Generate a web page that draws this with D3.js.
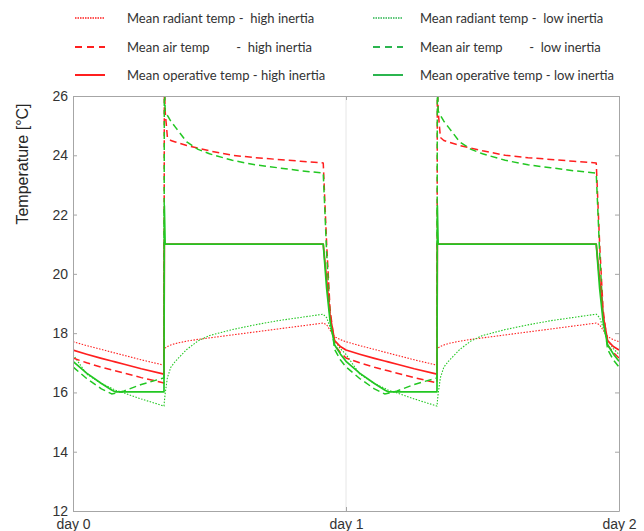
<!DOCTYPE html>
<html>
<head>
<meta charset="utf-8">
<script src="https://cdn.jsdelivr.net/npm/d3@7"></script>
<style>
  body { margin: 0; background: #fff; }
  svg { display: block; }
  .tick text { font-family: "Liberation Sans", Arial, sans-serif; font-size: 14px; fill: #333; }
</style>
</head>
<body>
<svg id="chart" width="644" height="531"></svg>
<script>
// hours within one day (the second day repeats the first)
const hours = [0, 1.2, 2.5, 3.4, 3.7, 4.5, 6, 8, 8.03, 8.1, 8.3, 8.6, 9, 10, 11, 12, 14, 16, 18, 20, 22, 22.3, 22.6, 23, 23.5, 24];

const radiantHigh   = [17.71, 17.58, 17.45, 17.36, 17.33, 17.25, 17.1, 16.92, 17.45, 17.5, 17.55, 17.6, 17.65, 17.73, 17.79, 17.84, 17.94, 18.04, 18.14, 18.24, 18.34, 18.28, 18.1, 17.88, 17.78, 17.71];
const radiantLow    = [17.28, 16.62, 16.3, 16.14, 16.08, 15.98, 15.78, 15.54, 15.68, 15.95, 16.5, 16.85, 17.05, 17.45, 17.74, 17.92, 18.12, 18.28, 18.42, 18.53, 18.64, 18.52, 18.2, 17.75, 17.48, 17.28];
const airHigh       = [17.16, 17.0, 16.85, 16.76, 16.73, 16.65, 16.5, 16.32, 26.6, 25.5, 24.6, 24.5, 24.45, 24.33, 24.24, 24.15, 24.0, 23.92, 23.86, 23.8, 23.74, 21.0, 18.8, 17.6, 17.35, 17.16];
const airLow        = [16.86, 16.47, 16.12, 15.95, 15.97, 16.05, 16.27, 16.49, 26.8, 25.5, 25.35, 25.15, 24.95, 24.45, 24.2, 24.05, 23.83, 23.68, 23.58, 23.48, 23.4, 20.7, 18.6, 17.45, 17.1, 16.86];
const operativeHigh = [17.43, 17.29, 17.15, 17.06, 17.03, 16.95, 16.8, 16.62, 21.0, 21.0, 21.0, 21.0, 21.0, 21.0, 21.0, 21.0, 21.0, 21.0, 21.0, 21.0, 21.0, 19.8, 18.6, 17.75, 17.55, 17.43];
const operativeLow  = [17.05, 16.65, 16.3, 16.08, 16.02, 16.02, 16.02, 16.02, 22.3, 21.0, 21.0, 21.0, 21.0, 21.0, 21.0, 21.0, 21.0, 21.0, 21.0, 21.0, 21.0, 19.5, 18.4, 17.6, 17.3, 17.05];

const yTicks = [12, 14, 16, 18, 20, 22, 24, 26];
const dayTicks = [0, 24, 48];

const legendLabels = [
  "Mean radiant temp -  high inertia",
  "Mean air temp        -  high inertia",
  "Mean operative temp - high inertia",
  "Mean radiant temp -  low inertia",
  "Mean air temp        -  low inertia",
  "Mean operative temp - low inertia"
];

const RED = "#ff1f1f", GREEN = "#22c722", LEG_GREEN = "#2bb54f";
const styles = {
  dotted: { dash: "1.5,1.5", width: 1.1 },
  dashed: { dash: "7,4", width: 1.5 },
  solid:  { dash: null, width: 1.7 }
};

function twoDays(vals){
  let pts = hours.map((h, i)=> [h, vals[i]]);
  let second = hours.slice(1).map((h, i)=> [h + 24, vals[i + 1]]);
  return pts.concat(second);
}

const series = [
  { vals: radiantHigh,   color: RED,   style: "dotted" },
  { vals: radiantLow,    color: GREEN, style: "dotted" },
  { vals: airHigh,       color: RED,   style: "dashed" },
  { vals: airLow,        color: GREEN, style: "dashed" },
  { vals: operativeHigh, color: RED,   style: "solid" },
  { vals: operativeLow,  color: GREEN, style: "solid" }
];

const svg = d3.select('#chart');
const plotL = 73, plotR = 619, plotT = 96, plotB = 511;

const x = d3.scaleLinear().domain([0, 48]).range([plotL, plotR]);
const y = d3.scaleLinear().domain([12, 26]).range([plotB, plotT]);

// day 1 grid line
svg.append('line')
  .attr('x1', x(24)).attr('x2', x(24)).attr('y1', plotT).attr('y2', plotB)
  .attr('stroke', '#e6e6e6').attr('stroke-width', 1);

svg.append('clipPath').attr('id', 'plot-clip')
  .append('rect').attr('x', plotL).attr('y', plotT).attr('width', plotR - plotL).attr('height', plotB - plotT);

const line = d3.line().x(d=> x(d[0])).y(d=> y(d[1]));

let plot = svg.append('g').attr('clip-path', 'url(#plot-clip)');
series.forEach(s=>{
  plot.append('path')
    .datum(twoDays(s.vals))
    .attr('d', line)
    .attr('fill', 'none')
    .attr('stroke', s.color)
    .attr('stroke-width', styles[s.style].width)
    .attr('stroke-dasharray', styles[s.style].dash)
    .attr('stroke-linejoin', 'round');
});

// axes / frame
function styleAxis(g){
  g.selectAll('.domain').attr('stroke', '#a6a6a6');
  g.selectAll('.tick line').attr('stroke', '#a6a6a6');
}
svg.append('g').attr('transform', 'translate(' + plotL + ',0)')
  .call(d3.axisLeft(y).tickValues(yTicks).tickSizeInner(-4).tickSizeOuter(0).tickPadding(5))
  .call(styleAxis);
svg.append('g').attr('transform', 'translate(' + plotR + ',0)')
  .call(d3.axisRight(y).tickValues(yTicks).tickSizeInner(-4).tickSizeOuter(0).tickFormat(''))
  .call(styleAxis);
svg.append('g').attr('transform', 'translate(0,' + plotB + ')')
  .call(d3.axisBottom(x).tickValues(dayTicks).tickSizeInner(-4).tickSizeOuter(0).tickPadding(8)
    .tickFormat(d=> 'day ' + (d / 24)))
  .call(styleAxis);
svg.append('g').attr('transform', 'translate(0,' + plotT + ')')
  .call(d3.axisTop(x).tickValues(dayTicks).tickSizeInner(-4).tickSizeOuter(0).tickFormat(''))
  .call(styleAxis);

// y label
svg.append('text')
  .attr('transform', 'translate(28,164) rotate(-90)')
  .attr('text-anchor', 'middle')
  .style('font-family', '"Liberation Sans", Arial, sans-serif')
  .style('font-size', '16px')
  .style('fill', '#262626')
  .text('Temperature [°C]');

// legend
const legendStyles = ["dotted", "dashed", "solid"];
const legendDash = { dotted: "1.5,1", dashed: "7,5", solid: null };
const legendWidth = { dotted: 1.3, dashed: 1.8, solid: 2 };
const legendRowsY = [18, 47, 75];
const legendCols = [{ x: 75, tx: 127, color: RED }, { x: 373, tx: 420, color: LEG_GREEN }];

legendCols.forEach((c, ci)=>{
  legendStyles.forEach((st, ri)=>{
    let yy = legendRowsY[ri];
    svg.append('line')
      .attr('x1', c.x).attr('x2', c.x + 30).attr('y1', yy).attr('y2', yy)
      .attr('stroke', c.color)
      .attr('stroke-width', legendWidth[st])
      .attr('stroke-dasharray', legendDash[st]);
    svg.append('text')
      .attr('x', c.tx).attr('y', yy).attr('dy', '0.35em')
      .style('font-family', 'Lato, "Open Sans", sans-serif')
      .style('font-size', '13px')
      .style('fill', '#333')
      .style('white-space', 'pre')
      .text(legendLabels[ci * 3 + ri]);
  });
});
</script>
</body>
</html>
